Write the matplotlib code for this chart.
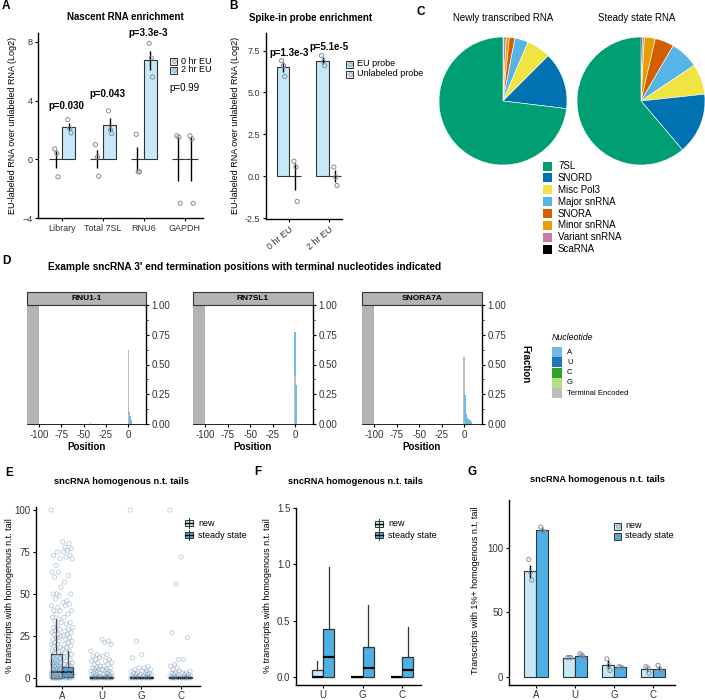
import matplotlib
matplotlib.use('Agg')
import matplotlib.pyplot as plt
from matplotlib.patches import Rectangle
import numpy as np

plt.rcParams['font.family'] = ['Liberation Sans', 'DejaVu Sans']

# ---------------- data ----------------
# Panel A
catsA = ['Library', 'Total 7SL', 'RNU6', 'GAPDH']
a_mean_0 = [0, 0, 0, 0]
a_err_0 = [0.6, 0.6, 0.85, 1.5]
a_mean_2 = [2.2, 2.35, 6.75, 0]
a_err_2 = [0.3, 0.45, 0.65, 1.5]
a_pts_0 = [[0.7, 0.4, -1.2], [1.0, 0.15, -1.15], [1.7, -0.85, -0.85], [1.6, 1.5, -3.0]]
a_pts_2 = [[2.7, 2.1, 1.8], [3.3, 2.0, 1.75], [7.9, 6.9, 5.6], [1.6, 1.4, -3.0]]
a_ptext = ['p=0.030', 'p=0.043', 'p=3.3e-3', 'p=0.99']
a_py = [3.64, 4.43, 8.6, 4.88]
a_pbold = [True, True, True, False]

# Panel B
catsB = ['0 hr EU', '2 hr EU']
b_eu_mean = [6.5, 6.9]
b_eu_err = [0.3, 0.2]
b_un_mean = [0, 0]
b_un_err = [0.8, 0.35]
b_eu_pts = [[6.9, 6.6, 5.95], [7.2, 6.85, 6.6]]
b_un_pts = [[0.9, 0.55, -1.5], [0.55, -0.05, -0.55]]
b_ptext = ['p=1.3e-3', 'p=5.1e-5']
b_py = [7.38, 7.7]

# Panel C
pie_labels = ['7SL', 'SNORD', 'Misc Pol3', 'Major snRNA', 'SNORA', 'Minor snRNA', 'Variant snRNA', 'ScaRNA']
pie_colors = ['#009E73', '#0072B2', '#F0E442', '#56B4E9', '#D55E00', '#E69F00', '#CC79A7', '#000000']
new_frac = [73.1, 14.4, 6.1, 3.4, 1.4, 0.8, 0.7, 0.1]
steady_frac = [61.2, 15.5, 7.7, 7.2, 4.8, 2.75, 0.5, 0.35]

# Panel D
nuc_names = ['A', 'U', 'C', 'G', 'Terminal Encoded']
nuc_colors = ['#74b9e6', '#1f78b4', '#33a02c', '#b2df8a', '#bdbdbd']
d_titles = ['RNU1-1', 'RN7SL1', 'SNORA7A']
d_pos = [[-42, 0, 1, 2, 3],
         [0, 1, 2],
         [0, 1, 2, 3, 4, 5, 6, 7, 8]]
d_TE = [[0.01, 0.62, 0.08, 0.0, 0.0],
        [0.40, 0.0, 0.0],
        [0.56, 0.02, 0, 0, 0, 0, 0, 0, 0]]
d_A = [[0.0, 0.0, 0.02, 0.07, 0.03],
       [0.37, 0.33, 0.03],
       [0.0, 0.22, 0.17, 0.08, 0.05, 0.04, 0.03, 0.03, 0.02]]

# Panel E
nucsE = ['A', 'U', 'G', 'C']
e_new_pts = [
    [100, 75, 73, 71, 67, 63, 63, 60, 54, 50, 50, 49, 47, 43, 42, 40, 40, 38, 36, 35, 34, 33, 31, 30, 29, 28, 27,
     26, 26, 25, 24, 23, 22, 21, 20, 20, 19, 18, 17, 16, 15, 15, 14, 13, 12, 12, 11, 10, 10, 9, 9, 8, 8, 7, 7, 6,
     6, 5, 5, 5, 4, 4, 4, 3, 3, 3, 2, 2, 2, 1, 1, 1, 1, 0.5, 0.5, 0, 0, 0, 0, 0, 0, 0, 0],
    [16, 14, 13, 12, 11, 10, 9, 8, 7, 6, 6, 5, 5, 4, 4, 3, 3, 2, 2, 1, 1, 1, 0.5, 0, 0, 0, 0, 0, 0],
    [100, 22, 12, 6, 5, 4, 3, 3, 2, 2, 1, 1, 0.5, 0, 0, 0, 0, 0],
    [100, 56, 27, 11, 8, 7, 6, 5, 4, 3, 3, 2, 2, 1, 1, 0.5, 0, 0, 0, 0, 0],
]
e_ss_pts = [
    [81, 80, 78, 77, 76, 75, 73, 72, 71, 61, 57, 50, 46, 45, 44, 43, 40, 38, 36, 33, 32, 30, 29, 28, 27, 26, 25,
     24, 23, 22, 21, 20, 19, 18, 17, 16, 15, 14, 13, 12, 11, 10, 9, 8, 8, 7, 7, 6, 6, 5, 5, 4, 4, 3, 3, 2, 2, 1,
     1, 1, 0.5, 0, 0, 0, 0, 0],
    [23, 22, 21, 20, 14, 13, 11, 10, 9, 8, 7, 6, 5, 5, 4, 4, 3, 3, 2, 2, 1, 1, 1, 0.5, 0, 0, 0, 0, 0, 0],
    [14, 7, 6, 5, 4, 4, 3, 3, 2, 2, 1, 1, 0.5, 0, 0, 0, 0, 0],
    [72, 24, 11, 4, 3, 3, 2, 2, 1, 1, 0.5, 0, 0, 0, 0, 0],
]
# box stats: q1, median, q3, whisker low, whisker high
e_new_box = [[0, 3.5, 14, 0, 35], [0, 0, 0.5, 0, 1], [0, 0, 0.3, 0, 0.7], [0, 0, 0.3, 0, 0.7]]
e_ss_box = [[0.6, 3.6, 6.5, 0, 16], [0, 0, 0.7, 0, 1.5], [0, 0, 0.5, 0, 1], [0, 0, 0.4, 0, 1]]

# Panel F
nucsF = ['U', 'G', 'C']
f_new_box = [[0, 0, 0.06, 0, 0.14], [0, 0, 0, 0, 0], [0, 0, 0, 0, 0]]
f_ss_box = [[0, 0.18, 0.43, 0, 0.98], [0, 0.08, 0.27, 0, 0.64], [0, 0.06, 0.18, 0, 0.44]]

# Panel G
nucsG = ['A', 'U', 'G', 'C']
g_new_mean = [82, 15, 9.5, 6]
g_new_err = [5, 0.5, 3.5, 2]
g_ss_mean = [114, 16.5, 7.5, 6.5]
g_ss_err = [2, 1, 0.5, 2]
g_new_pts = [[91, 81, 75], [15, 15, 15], [14, 9, 5], [8, 7, 3]]
g_ss_pts = [[116, 113, 112], [18, 17, 15.5], [8, 7.5, 7], [9, 6, 4]]

# ---------------- helpers ----------------
W, H = 705, 700
fig = plt.figure(figsize=(W / 100, H / 100), dpi=100)

LIGHT = '#c6e8f8'
MID = '#4db1e6'
EDGE = '#333333'
PT = '#7f93a8'


def axpx(l, t, r, b):
    return fig.add_axes([l / W, 1 - b / H, (r - l) / W, (b - t) / H])


def classic(ax, fs=6.5):
    for s in ['top', 'right']:
        ax.spines[s].set_visible(False)
    for s in ['left', 'bottom']:
        ax.spines[s].set_linewidth(1.0)
    ax.tick_params(labelsize=fs, length=2.5, width=0.8, pad=1.5, labelcolor='#333333')
    ax.patch.set_alpha(0)


jit3 = [-0.03, 0.02, 0.05]

# ---------------- Panel A ----------------
axA = axpx(38, 33, 203, 218)
xa = np.arange(1, len(catsA) + 1)
w = 0.32
axA.bar(xa - w / 2, a_mean_0, w, facecolor='white', edgecolor=EDGE, lw=0.8)
axA.bar(xa + w / 2, a_mean_2, w, facecolor=LIGHT, edgecolor=EDGE, lw=0.8)
axA.errorbar(xa - w / 2, a_mean_0, yerr=a_err_0, fmt='none', ecolor='black', elinewidth=1.0)
axA.errorbar(xa + w / 2, a_mean_2, yerr=a_err_2, fmt='none', ecolor='black', elinewidth=1.0)
for i in range(len(catsA)):
    axA.scatter(xa[i] - w / 2 + np.array(jit3), a_pts_0[i], s=9, facecolors='none', edgecolors='#8c8c8c', lw=0.7, zorder=5)
    axA.scatter(xa[i] + w / 2 + np.array(jit3), a_pts_2[i], s=9, facecolors='none', edgecolors=PT, lw=0.7, zorder=5)
    axA.text(xa[i] + (0.1 if a_pbold[i] else 0), a_py[i], a_ptext[i], ha='center', va='center', fontsize=7,
             fontweight='bold' if a_pbold[i] else 'normal', clip_on=False)
axA.set_xlim(0.4, 4.45)
axA.set_ylim(-4.0, 8.6)
axA.set_yticks([-4, 0, 4, 8])
axA.set_xticks(xa)
axA.set_xticklabels(catsA)
classic(axA)

# ---------------- Panel B ----------------
axB = axpx(266, 33, 342, 219)
xb = np.arange(1, len(catsB) + 1)
wb = 0.31
axB.bar(xb - wb / 2, b_eu_mean, wb, facecolor=LIGHT, edgecolor=EDGE, lw=0.8)
axB.bar(xb + wb / 2, b_un_mean, wb, facecolor='white', edgecolor=EDGE, lw=0.8)
axB.errorbar(xb - wb / 2, b_eu_mean, yerr=b_eu_err, fmt='none', ecolor='black', elinewidth=1.0)
axB.errorbar(xb + wb / 2, b_un_mean, yerr=b_un_err, fmt='none', ecolor='black', elinewidth=1.0)
for i in range(len(catsB)):
    axB.scatter(xb[i] - wb / 2 + np.array(jit3), b_eu_pts[i], s=9, facecolors='none', edgecolors=PT, lw=0.7, zorder=5)
    axB.scatter(xb[i] + wb / 2 + np.array(jit3), b_un_pts[i], s=9, facecolors='none', edgecolors='#8c8c8c', lw=0.7, zorder=5)
    axB.text(xb[i], b_py[i], b_ptext[i], ha='center', va='center', fontsize=7, fontweight='bold', clip_on=False)
axB.set_xlim(0.425, 2.33)
axB.set_ylim(-2.55, 8.55)
axB.set_yticks([-2.5, 0, 2.5, 5, 7.5])
axB.set_yticklabels(['-2.5', '0.0', '2.5', '5.0', '7.5'])
axB.set_xticks(xb)
axB.set_xticklabels(catsB, rotation=40, ha='right', rotation_mode='anchor')
classic(axB)

# ---------------- Panel C ----------------
for (l, t), frac, title in [((439, 37), new_frac, 'Newly transcribed RNA'),
                            ((577, 37), steady_frac, 'Steady state RNA')]:
    axp = axpx(l, t, l + 128, t + 128)
    axp.pie(frac[::-1], colors=pie_colors[::-1], startangle=90, counterclock=False, radius=1,
            wedgeprops=dict(edgecolor='white', linewidth=0.4))
    axp.set_xlim(-1, 1)
    axp.set_ylim(-1, 1)
    axp.set_aspect('equal')
    axp.axis('off')

# ---------------- Panel D ----------------
d_boxes = [(27, 146), (193, 313), (362, 482)]
for k in range(3):
    l, r = d_boxes[k]
    ax = axpx(l, 305, r, 424)
    ax.axvspan(-113.5, -100, color='#b3b3b3', lw=0)
    pos = np.array(d_pos[k])
    te = np.array(d_TE[k])
    aa = np.array(d_A[k])
    ax.bar(pos, te, 1.5, color=nuc_colors[4], lw=0)
    ax.bar(pos, aa, 1.5, bottom=te, color=nuc_colors[0], lw=0)
    ax.set_xlim(-113.5, 20)
    ax.set_ylim(0, 1.0)
    ax.yaxis.tick_right()
    ax.set_yticks([0, 0.25, 0.5, 0.75, 1.0])
    ax.set_yticklabels(['0.00', '0.25', '0.50', '0.75', '1.00'])
    ax.set_yticks([0.125, 0.375, 0.625, 0.875], minor=True)
    ax.set_xticks([-100, -75, -50, -25, 0])
    ax.set_xticklabels(['-100', '-75', '-50', '-25', '0'])
    for s in ['top', 'left']:
        ax.spines[s].set_visible(False)
    ax.spines['right'].set_linewidth(1.0)
    ax.spines['bottom'].set_linewidth(0.6)
    ax.tick_params(labelsize=7, length=2.5, width=0.8, pad=1.5, labelcolor='#333333')
    ax.tick_params(which='minor', length=1.5, width=0.6)
    ax.add_patch(Rectangle((0, 1.0), 1, 13 / 119, transform=ax.transAxes, clip_on=False,
                           facecolor='#b3b3b3', edgecolor='#333333', lw=0.8))
    ax.text(0.5, 1.0 + 6.5 / 119, d_titles[k], transform=ax.transAxes, ha='center', va='center',
            fontsize=6, fontweight='bold')
    ax.set_xlabel('Position', fontsize=7, fontweight='bold', labelpad=2)

# ---------------- Panel E ----------------
def boxes(ax, xs, stats, color, width):
    st = [dict(q1=s[0], med=s[1], q3=s[2], whislo=s[3], whishi=s[4], fliers=[]) for s in stats]
    ax.bxp(st, positions=xs, widths=width, showfliers=False, patch_artist=True, manage_ticks=False,
           boxprops=dict(facecolor=color, edgecolor=EDGE, lw=0.9),
           medianprops=dict(color='black', lw=1.6),
           whiskerprops=dict(color=EDGE, lw=0.9), capprops=dict(lw=0))


axE = axpx(36, 507, 200, 686)
xe = np.arange(1, len(nucsE) + 1)
boxes(axE, xe - 0.145, e_new_box, LIGHT, 0.29)
boxes(axE, xe + 0.145, e_ss_box, MID, 0.29)
for i in range(len(nucsE)):
    for pts, off in [(e_new_pts[i], -0.145), (e_ss_pts[i], 0.145)]:
        n = len(pts)
        jit = ((np.arange(n) * 0.6180339) % 1 - 0.5) * 0.26
        axE.scatter(xe[i] + off + jit, pts, s=9, facecolors='none', edgecolors='#6f8fb0', alpha=0.45, lw=0.6, zorder=6)
axE.set_xlim(0.342, 4.49)
axE.set_ylim(-4.8, 101.8)
axE.set_yticks([0, 25, 50, 75, 100])
axE.set_xticks(xe)
axE.set_xticklabels(nucsE)
classic(axE, 7)
axE.tick_params(axis='x', labelsize=7, pad=0.8)

# ---------------- Panel F ----------------
axF = axpx(296, 508, 421, 685)
xf = np.arange(1, len(nucsF) + 1)
boxes(axF, xf - 0.145, f_new_box, LIGHT, 0.29)
boxes(axF, xf + 0.145, f_ss_box, MID, 0.29)
axF.set_xlim(0.316, 3.48)
axF.set_ylim(-0.071, 1.5)
axF.set_yticks([0, 0.5, 1.0, 1.5])
axF.set_yticklabels(['0.0', '0.5', '1.0', '1.5'])
axF.set_xticks(xf)
axF.set_xticklabels(nucsF)
classic(axF, 7)
axF.tick_params(axis='x', labelsize=7, pad=0.8)

# ---------------- Panel G ----------------
axG = axpx(509, 500, 675, 685)
xg = np.arange(1, len(nucsG) + 1)
wg = 0.31
axG.bar(xg - wg / 2, g_new_mean, wg, facecolor=LIGHT, edgecolor=EDGE, lw=0.8)
axG.bar(xg + wg / 2, g_ss_mean, wg, facecolor=MID, edgecolor=EDGE, lw=0.8)
axG.errorbar(xg - wg / 2, g_new_mean, yerr=g_new_err, fmt='none', ecolor='black', elinewidth=1.0)
axG.errorbar(xg + wg / 2, g_ss_mean, yerr=g_ss_err, fmt='none', ecolor='black', elinewidth=1.0)
for i in range(len(nucsG)):
    axG.scatter(xg[i] - wg / 2 + np.array(jit3), g_new_pts[i], s=9, facecolors='none', edgecolors=PT, lw=0.7, zorder=5)
    axG.scatter(xg[i] + wg / 2 + np.array(jit3), g_ss_pts[i], s=9, facecolors='none', edgecolors=PT, lw=0.7, zorder=5)
axG.set_xlim(0.31, 4.56)
axG.set_ylim(-6.2, 137)
axG.set_yticks([0, 50, 100])
axG.set_xticks(xg)
axG.set_xticklabels(nucsG)
classic(axG, 7)
axG.tick_params(axis='x', labelsize=7, pad=0.8)

# ---------------- overlay: text & legends ----------------
ov = fig.add_axes([0, 0, 1, 1], zorder=10)
ov.set_xlim(0, W)
ov.set_ylim(H, 0)
ov.axis('off')


def T(x, y, s, **kw):
    kw.setdefault('ha', 'center')
    kw.setdefault('va', 'center')
    ov.text(x, y, s, **kw)


# panel letters
for lab, x, y in [('A', 6, 6), ('B', 234, 6), ('C', 421, 12), ('D', 6, 261), ('E', 9, 473), ('F', 258, 472), ('G', 472, 472)]:
    T(x, y, lab, fontsize=8.5, fontweight='bold')

# titles
T(125, 17, 'Nascent RNA enrichment', fontsize=7, fontweight='bold')
T(311, 18, 'Spike-in probe enrichment', fontsize=7, fontweight='bold')
T(503, 18, 'Newly transcribed RNA', fontsize=7)
T(637, 18, 'Steady state RNA', fontsize=7)
T(245, 267, "Example sncRNA 3' end termination positions with terminal nucleotides indicated", fontsize=7.3, fontweight='bold')
T(121, 482, 'sncRNA homogenous n.t. tails', fontsize=6.7, fontweight='bold')
T(355, 481, 'sncRNA homogenous n.t. tails', fontsize=6.7, fontweight='bold')
T(597, 479, 'sncRNA homogenous n.t. tails', fontsize=6.7, fontweight='bold')

# y labels
T(13, 125, 'EU-labeled RNA over unlabeled RNA (Log2)', rotation=90, fontsize=6.5)
T(235, 125, 'EU-labeled RNA over unlabeled RNA (Log2)', rotation=90, fontsize=6.5)
T(525, 364, 'Fraction', rotation=270, fontsize=7, fontweight='bold')
T(10, 596, '% transcripts with homogenous n.t. tail', rotation=90, fontsize=6.5)
T(268, 596, '% transcripts with homogenous n.t. tail', rotation=90, fontsize=6.5)
T(476, 590, 'Transcripts with 1%+ homogenous n.t. tail', rotation=90, fontsize=6.5)


def pt_key(x, y, fc, label, fs=6.5):
    ov.add_patch(Rectangle((x, y - 3.5), 7, 7, facecolor=fc, edgecolor=EDGE, lw=0.7))
    ov.plot([x + 3.5], [y], 'o', mfc='none', mec=PT, ms=2.6, mew=0.6)
    T(x + 11, y, label, ha='left', fontsize=fs)


# legend A
pt_key(170, 61, '#eeeeee', '0 hr EU')
pt_key(170, 70, LIGHT, '2 hr EU')
# legend B
pt_key(346, 64, LIGHT, 'EU probe')
pt_key(346, 74, '#eeeeee', 'Unlabeled probe')
# legend G
pt_key(614, 526, LIGHT, 'new')
pt_key(614, 536, MID, 'steady state')

# legend C
for i, (lab, col) in enumerate(zip(pie_labels, pie_colors)):
    y = 166 + i * 11.9
    ov.add_patch(Rectangle((543, y - 4.5), 9, 9, facecolor=col, edgecolor='none'))
    T(558, y, lab, ha='left', fontsize=7)

# legend D
T(552, 337, 'Nucleotide', ha='left', fontsize=6.3, style='italic')
for i, (lab, col) in enumerate(zip(nuc_names, nuc_colors)):
    y = 352 + i * 10.3
    ov.add_patch(Rectangle((552, y - 5), 10, 10, facecolor=col, edgecolor='none'))
    T(567, y, lab, ha='left', fontsize=5.5)


def box_key(x, y, fc, label):
    ov.plot([x + 4, x + 4], [y - 5, y + 5], color=EDGE, lw=0.7)
    ov.add_patch(Rectangle((x, y - 3), 8, 6, facecolor=fc, edgecolor=EDGE, lw=0.7))
    ov.plot([x, x + 8], [y, y], color='black', lw=1.0)
    T(x + 13, y, label, ha='left', fontsize=6.5)


box_key(185, 523, LIGHT, 'new')
box_key(185, 535, MID, 'steady state')
box_key(375, 524, LIGHT, 'new')
box_key(375, 535, MID, 'steady state')

fig.savefig('out.png', dpi=100)
